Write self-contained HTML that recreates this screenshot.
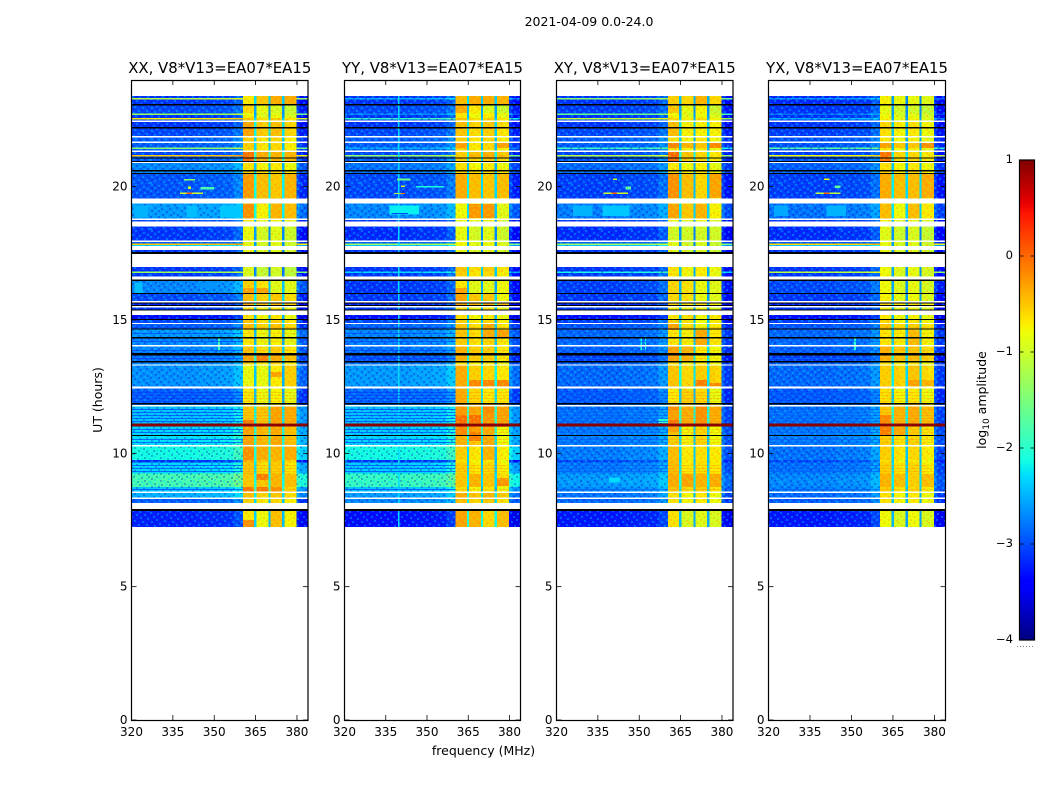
<!DOCTYPE html>
<html>
<head>
<meta charset="utf-8">
<title>2021-04-09 0.0-24.0</title>
<style>
html,body{margin:0;padding:0;background:#fff;}
svg{display:block;}
text{font-family:"DejaVu Sans","Liberation Sans",sans-serif;fill:#000;}
</style>
</head>
<body>
<svg id="fig" xmlns="http://www.w3.org/2000/svg" width="1050" height="800" viewBox="0 0 1050 800">
<defs>
<pattern id="noise" width="30" height="23" patternUnits="userSpaceOnUse">
<path fill="#00d0ff" opacity=".38" d="M1 0h2v2h-2zM8 1h2v2h-2zM15 0h2v2h-2zM23 2h2v2h-2zM4 3h2v2h-2zM12 4h2v2h-2zM19 5h2v2h-2zM27 4h2v2h-2zM0 6h2v2h-2zM7 7h2v2h-2zM16 8h2v2h-2zM24 8h2v2h-2zM3 10h2v2h-2zM11 10h2v2h-2zM20 11h2v2h-2zM27 12h2v2h-2zM6 13h2v2h-2zM14 14h2v2h-2zM22 15h2v2h-2zM1 15h2v2h-2zM9 17h2v2h-2zM18 18h2v2h-2zM26 18h2v2h-2zM4 19h2v2h-2zM13 20h2v2h-2zM21 21h2v2h-2zM0 21h2v2h-2zM28 21h2v2h-2z"/>
<path fill="#0008c0" opacity=".3" d="M4 0h2v2h-2zM11 1h2v2h-2zM19 1h2v2h-2zM26 0h2v2h-2zM1 3h2v2h-2zM8 3h2v2h-2zM16 4h2v2h-2zM23 5h2v2h-2zM5 6h2v2h-2zM12 7h2v2h-2zM20 7h2v2h-2zM27 7h2v2h-2zM0 9h2v2h-2zM8 9h2v2h-2zM14 10h2v2h-2zM23 11h2v2h-2zM3 13h2v2h-2zM10 13h2v2h-2zM18 13h2v2h-2zM26 14h2v2h-2zM6 16h2v2h-2zM13 16h2v2h-2zM21 17h2v2h-2zM28 16h2v2h-2zM1 18h2v2h-2zM10 20h2v2h-2zM17 21h2v2h-2zM24 20h2v2h-2z"/>
</pattern>
<pattern id="hotnoise" width="30" height="23" patternUnits="userSpaceOnUse">
<path fill="#b4f000" opacity=".35" d="M1 0h2v2h-2zM8 1h2v2h-2zM15 0h2v2h-2zM23 2h2v2h-2zM4 3h2v2h-2zM12 4h2v2h-2zM19 5h2v2h-2zM27 4h2v2h-2zM0 6h2v2h-2zM7 7h2v2h-2zM16 8h2v2h-2zM24 8h2v2h-2zM3 10h2v2h-2zM11 10h2v2h-2zM20 11h2v2h-2zM27 12h2v2h-2zM6 13h2v2h-2zM14 14h2v2h-2zM22 15h2v2h-2zM1 15h2v2h-2zM9 17h2v2h-2zM18 18h2v2h-2zM26 18h2v2h-2zM4 19h2v2h-2zM13 20h2v2h-2zM21 21h2v2h-2zM0 21h2v2h-2zM28 21h2v2h-2z"/>
<path fill="#ff8c00" opacity=".3" d="M4 0h2v2h-2zM11 1h2v2h-2zM19 1h2v2h-2zM26 0h2v2h-2zM1 3h2v2h-2zM8 3h2v2h-2zM16 4h2v2h-2zM23 5h2v2h-2zM5 6h2v2h-2zM12 7h2v2h-2zM20 7h2v2h-2zM27 7h2v2h-2zM0 9h2v2h-2zM8 9h2v2h-2zM14 10h2v2h-2zM23 11h2v2h-2zM3 13h2v2h-2zM10 13h2v2h-2zM18 13h2v2h-2zM26 14h2v2h-2zM6 16h2v2h-2zM13 16h2v2h-2zM21 17h2v2h-2zM28 16h2v2h-2zM1 18h2v2h-2zM10 20h2v2h-2zM17 21h2v2h-2zM24 20h2v2h-2z"/>
</pattern>
</defs>
<text x="589" y="26" font-size="12.5" text-anchor="middle">2021-04-09 0.0-24.0</text>
<text x="0" y="0" font-size="12.5" text-anchor="middle" transform="translate(102 400) rotate(-90)">UT (hours)</text>
<text x="483.5" y="755" font-size="12.5" text-anchor="middle">frequency (MHz)</text>
<g id="panels"></g>
<g id="colorbar"></g>
<text font-size="12.5" text-anchor="middle" transform="translate(986 400) rotate(-90)">log<tspan font-size="9" dy="3">10</tspan><tspan dy="-3"> amplitude</tspan></text>
</svg>
<script>
const _ = null;
const K = -9;

const xTicks = [320, 335, 350, 365, 380];
const yTicks = [0, 5, 10, 15, 20];
const cbarTicks = [1, 0, -1, -2, -3, -4];
const panelTitles = ['XX, V8*V13=EA07*EA15', 'YY, V8*V13=EA07*EA15', 'XY, V8*V13=EA07*EA15', 'YX, V8*V13=EA07*EA15'];

const rowTopUT = [
23.4,23.325,23.269,23.1,23.044,22.744,22.688,22.575,22.519,22.481,
22.425,22.238,22.181,21.9,21.844,21.694,21.638,21.469,21.413,21.356,
21.3,21.188,21.131,21.094,21.056,20.963,20.925,20.888,20.625,20.569,
20.513,20.475,19.556,19.369,18.806,18.75,18.694,18.506,17.981,17.925,
17.869,17.813,17.775,17.625,17.55,17.475,16.988,16.819,16.763,16.631,
16.526,16.463,16.013,15.975,15.713,15.664,15.619,15.563,15.525,15.469,
15.401,15.349,15.188,15.038,15.0,14.888,14.85,14.681,14.636,14.363,
14.314,14.063,14.006,13.763,13.669,13.463,13.414,13.339,13.286,12.506,
12.431,11.888,11.839,11.813,11.764,11.119,10.999,10.688,10.65,10.313,
10.264,9.75,9.656,9.244,8.738,8.561,8.513,8.344,8.288,8.138,
7.913,7.838,7.238];

const channelEdges = [320,328,336,344,352,357,360.4,362.5,364.5,365.3,367.5,369.6,370.4,372.7,374.6,375.4,377.7,379.8,381,384];
const channelZone = ['L','L','L','L','L','L','H','H','H','H','H','H','H','H','H','H','H','L','L'];
const channelOffset = [-0.12,-0.12,-0.12,-0.08,-0.05,0.12,0.05,0.05,-1.7,-0.05,-0.1,-1.8,0,0,-1.8,-0.1,-0.15,-0.15,-0.35];

const lowXX = [
-3.0,-1.0,-3.0,K,-2.9,-1.2,-3.0,-0.6,-3.0,_,
-3.0,K,-2.9,_,-2.8,_,-2.8,-1.3,-2.8,_,
-2.9,-0.4,-2.9,K,-2.8,K,_,-2.6,K,-2.6,
K,-2.85,_,-2.5,_,-2.9,_,-3.0,_,-2.8,
-0.4,-2.2,_,-3.0,K,_,-3.0,-1.2,-3.0,_,
K,-2.6,K,-2.9,_,K,-3.1,K,_,-3.0,
K,_,-3.2,K,-2.9,_,-2.8,K,-2.5,K,
-2.6,_,-2.6,K,-2.7,K,-2.6,_,-2.55,_,
-2.8,K,-2.6,_,-2.3,0.95,-2.2,K,-2.15,_,
-2.0,-3.0,-2.2,-1.7,-2.3,_,-2.4,_,-2.8,_,
K,-3.1];
const highXX = [
-0.55,-0.6,-0.55,K,-0.85,-0.9,-0.8,-0.5,-0.6,_,
-0.45,K,-0.45,_,-0.6,_,-0.6,-0.6,-0.6,_,
-0.3,-0.1,-0.2,K,-0.2,K,_,-0.7,K,-0.6,
K,-0.4,_,-0.4,_,-0.8,_,-0.9,_,-0.9,
-0.9,-0.9,_,-0.9,K,_,-1.0,-1.0,-1.0,_,
K,-0.6,K,-0.5,_,K,-0.4,K,_,-0.7,
K,_,-0.7,K,-0.55,_,-0.5,K,-0.75,K,
-0.75,_,-0.55,K,-0.35,K,-0.6,_,-0.7,_,
-0.75,K,-0.7,_,-0.45,0.95,-0.35,K,-0.35,_,
-0.35,-0.45,-0.55,-0.35,-0.15,_,-0.5,_,-0.6,_,
K,-0.65];
const lowYY = [
-3.0,-2.4,-3.0,K,-2.9,-2.6,-3.0,-1.8,-3.0,_,
-3.0,K,-2.9,_,-2.8,_,-2.8,-2.4,-2.8,_,
-2.9,-1.2,-2.9,K,-2.8,K,_,-2.7,K,-2.7,
K,-2.9,_,-2.6,_,-3.0,_,-3.05,_,-2.8,
-1.2,-2.3,_,-3.0,K,_,-3.0,-2.2,-3.0,_,
K,-3.0,K,-3.0,_,K,-3.1,K,_,-3.0,
K,_,-3.2,K,-2.9,_,-2.75,K,-2.6,K,
-2.65,_,-2.7,K,-2.85,K,-2.7,_,-2.5,_,
-2.75,K,-2.6,_,-2.3,0.95,-2.25,K,-2.2,_,
-2.0,-3.0,-2.25,-1.8,-2.3,_,-2.5,_,-2.6,_,
K,-3.2];
const highYY = [
-0.55,-0.6,-0.55,K,-0.75,-0.7,-0.75,-0.5,-0.6,_,
-0.5,K,-0.55,_,-0.6,_,-0.65,-0.6,-0.65,_,
-0.4,-0.3,-0.4,K,-0.5,K,_,-0.7,K,-0.6,
K,-0.5,_,-0.6,_,-0.85,_,-0.9,_,-0.85,
-0.8,-0.85,_,-0.9,K,_,-0.55,-0.6,-0.6,_,
K,-0.75,K,-0.5,_,K,-0.3,K,_,-0.7,
K,_,-0.7,K,-0.6,_,-0.55,K,-0.55,K,
-0.6,_,-0.45,K,-0.45,K,-0.7,_,-0.35,_,
-0.45,K,-0.35,_,-0.25,0.95,-0.2,K,-0.45,_,
-0.6,-0.7,-0.6,-0.5,-0.7,_,-0.4,_,-0.5,_,
K,-0.35];
const lowXY = [
-3.0,-1.3,-3.0,K,-2.95,-1.5,-3.0,-1.0,-3.0,_,
-3.0,K,-2.9,_,-2.8,_,-2.8,-1.8,-2.8,_,
-2.9,-1.0,-2.9,K,-2.85,K,_,-2.75,K,-2.7,
K,-2.95,_,-2.65,_,-3.0,_,-3.05,_,-2.8,
-1.2,-2.3,_,-3.0,K,_,-3.0,-2.0,-3.0,_,
K,-2.95,K,-3.0,_,K,-3.1,K,_,-3.0,
K,_,-3.2,K,-2.95,_,-2.85,K,-2.75,K,
-2.75,_,-2.8,K,-2.95,K,-2.8,_,-2.75,_,
-2.85,K,-2.7,_,-2.7,0.95,-2.65,K,-2.65,_,
-2.65,-2.9,-2.65,-2.5,-2.6,_,-2.7,_,-2.75,_,
K,-3.15];
const highXY = [
-0.7,-0.75,-0.7,K,-0.85,-0.85,-0.8,-0.6,-0.7,_,
-0.55,K,-0.6,_,-0.7,_,-0.7,-0.7,-0.7,_,
-0.4,-0.3,-0.4,K,-0.5,K,_,-0.75,K,-0.7,
K,-0.65,_,-0.55,_,-0.85,_,-0.95,_,-0.95,
-0.95,-0.95,_,-0.95,K,_,-0.7,-0.75,-0.7,_,
K,-0.8,K,-0.8,_,K,-0.6,K,_,-0.8,
K,_,-0.75,K,-0.6,_,-0.5,K,-0.6,K,
-0.65,_,-0.5,K,-0.4,K,-0.7,_,-0.45,_,
-0.7,K,-0.5,_,-0.35,0.95,-0.55,K,-0.6,_,
-0.6,-0.65,-0.55,-0.4,-0.55,_,-0.7,_,-0.7,_,
K,-0.75];
const lowYX = [
-3.05,-2.5,-3.05,K,-3.0,-2.7,-3.0,-2.4,-3.0,_,
-3.0,K,-2.95,_,-2.85,_,-2.85,-1.6,-2.85,_,
-2.95,-0.7,-2.95,K,-2.85,K,_,-2.8,K,-2.75,
K,-2.95,_,-2.7,_,-3.0,_,-3.05,_,-2.85,
-0.5,-2.3,_,-3.0,K,_,-3.0,-1.0,-3.0,_,
K,-2.9,K,-3.0,_,K,-3.1,K,_,-3.0,
K,_,-3.2,K,-2.95,_,-2.85,K,-2.75,K,
-2.75,_,-2.8,K,-2.95,K,-2.8,_,-2.75,_,
-2.85,K,-2.75,_,-2.7,0.95,-2.65,K,-2.65,_,
-2.7,-2.9,-2.7,-2.6,-2.65,_,-2.75,_,-2.8,_,
K,-3.15];
const highYX = [
-0.9,-0.9,-0.9,K,-0.9,-0.9,-0.85,-0.75,-0.85,_,
-0.65,K,-0.7,_,-0.75,_,-0.75,-0.75,-0.75,_,
-0.5,-0.25,-0.5,K,-0.55,K,_,-0.7,K,-0.65,
K,-0.5,_,-0.55,_,-0.85,_,-0.95,_,-0.9,
-0.9,-0.9,_,-0.9,K,_,-0.85,-0.85,-0.85,_,
K,-0.85,K,-0.8,_,K,-0.6,K,_,-0.8,
K,_,-0.75,K,-0.65,_,-0.55,K,-0.65,K,
-0.65,_,-0.5,K,-0.45,K,-0.7,_,-0.5,_,
-0.7,K,-0.5,_,-0.4,0.95,-0.55,K,-0.6,_,
-0.6,-0.7,-0.6,-0.5,-0.6,_,-0.7,_,-0.7,_,
K,-0.8];

const highBands = [[360.4, 364.5], [365.3, 369.6], [370.4, 374.6], [375.4, 379.8]];

/* sub-band patches: band, UT top, UT bottom, log10 amplitude */
const bandPatchesXX = [
[0,23.4,23.1,-0.7],[1,23.4,23.1,-0.5],[2,23.4,23.1,-0.35],[3,23.4,23.1,-0.35],
[0,23.06,22.76,-0.6],[1,23.06,22.76,-0.85],[2,23.06,22.76,-0.95],[3,23.06,22.76,-1.05],
[0,22.43,21.9,-0.3],
[0,21.3,20.96,-0.05],[1,21.3,20.96,-0.35],[2,21.3,20.96,-0.4],[3,21.3,20.96,-0.4],
[0,20.48,19.58,-0.25],[1,20.48,19.58,-0.45],[2,20.48,19.58,-0.5],[3,20.48,19.58,-0.4],
[0,19.35,18.83,-0.2],[1,19.35,18.83,-0.75],[2,19.35,18.83,-0.4],[3,19.35,18.83,-0.45],
[0,16.2,15.98,-0.3],[1,16.2,15.98,-0.3],[2,16.46,15.98,-0.9],[3,16.46,15.98,-0.9],
[0,13.69,13.46,-0.3],[1,13.69,13.46,-0.1],
[0,13.31,12.52,-0.85],[1,13.31,12.52,-0.85],[2,13.05,12.86,-0.3],[3,13.31,12.52,-0.55],
[0,11.78,11.25,-0.5],[0,11.25,11.14,-0.05],[1,11.78,11.14,-0.5],[2,11.78,11.14,-0.3],[3,11.78,11.14,-0.35],
[0,10.28,9.75,-0.2],[1,10.28,9.75,-0.35],[2,10.28,9.75,-0.4],[3,10.28,9.75,-0.35],
[0,9.23,8.74,-0.5],[1,9.23,9.0,-0.1],[1,9.0,8.74,-0.5],[2,9.23,8.74,-0.4],[3,9.23,8.74,-0.45],
[0,8.74,8.59,-0.05],[1,8.74,8.59,-0.05],[2,8.74,8.59,-0.2],[3,8.74,8.59,-0.6],
[0,7.84,7.5,-0.7],[0,7.5,7.24,-0.2],[1,7.84,7.24,-0.8],[2,7.84,7.24,-0.45],[3,7.84,7.24,-0.75]];
const bandPatchesYY = [
[0,23.4,23.1,-0.45],[1,23.4,23.1,-0.35],[2,23.4,23.1,-0.35],[3,23.4,23.1,-0.4],
[0,23.06,22.76,-0.35],[1,23.06,22.76,-0.7],[2,23.06,22.76,-0.95],[3,23.06,22.76,-1.05],
[0,21.64,21.45,-0.3],[1,21.64,21.45,-0.7],[2,21.64,21.45,-0.6],[3,21.64,21.45,-0.3],
[0,21.3,20.96,-0.55],
[0,20.48,19.58,-0.35],[1,20.48,19.58,-0.45],[2,20.48,19.58,-0.5],[3,20.48,19.58,-0.45],
[0,19.35,18.83,-0.8],[1,19.35,18.83,-0.25],[2,19.35,18.83,-0.25],[3,19.35,18.83,-0.9],
[0,16.46,16.2,-0.7],[0,16.2,15.98,-0.3],[1,16.46,15.98,-0.9],[2,16.46,15.98,-0.9],[3,16.46,15.98,-0.8],
[0,15.98,15.71,-0.3],[1,15.98,15.71,-0.5],[2,15.98,15.71,-0.5],[3,15.98,15.71,-0.8],
[2,14.89,14.36,-0.35],[3,14.63,14.36,-0.3],
[0,14.06,13.46,-0.4],[1,14.06,13.46,-0.55],[2,14.06,13.46,-0.55],[3,14.06,13.46,-0.7],
[0,13.31,12.52,-0.35],[1,13.31,12.75,-0.55],[2,13.31,12.75,-0.6],[3,13.31,12.75,-0.7],
[1,12.75,12.52,-0.15],[2,12.75,12.52,-0.15],[3,12.75,12.52,-0.15],
[0,12.41,11.89,-0.35],[1,12.41,11.89,-0.6],[2,12.41,11.89,-0.7],[3,12.41,11.89,-0.7],
[0,11.78,11.44,-0.25],[0,11.44,11.14,0.0],[1,11.44,11.14,0.0],[2,11.78,11.51,-0.15],[3,11.78,11.14,-0.3],
[0,10.99,10.69,-0.15],[1,10.8,10.46,-0.1],[2,10.99,10.31,-0.35],[3,10.99,10.31,-0.8],
[2,10.28,9.75,-0.4],
[0,9.23,8.74,-0.5],[1,9.23,8.74,-0.4],[2,9.23,8.74,-0.5],[3,9.08,8.78,-0.25],
[0,7.84,7.24,-0.3],[1,7.84,7.24,-0.4],[2,7.84,7.24,-0.6],[3,7.84,7.24,-0.45]];
const bandPatchesXY = [
[0,23.4,23.1,-0.55],[1,23.4,23.1,-0.6],[2,23.4,23.1,-0.4],[3,23.4,23.1,-0.6],
[0,23.06,22.76,-0.5],[1,23.06,22.76,-0.85],[2,23.06,22.76,-0.75],[3,23.06,22.76,-1.05],
[0,22.43,21.9,-0.45],[1,22.43,21.9,-0.75],[2,22.43,21.9,-0.75],[3,22.43,21.9,-0.75],
[0,21.64,21.45,-0.15],[1,21.64,21.45,-0.4],[2,21.64,21.45,-0.5],[3,21.64,21.45,-0.15],
[0,21.3,20.96,0.0],[1,21.3,20.96,-0.5],[2,21.3,20.96,-0.6],[3,21.3,20.96,-0.7],
[0,20.48,19.58,-0.2],[1,20.48,19.58,-0.45],[2,20.48,19.58,-0.6],[3,20.48,19.58,-0.3],
[0,19.35,18.83,-0.3],[1,19.35,18.83,-0.5],[2,19.35,18.83,-0.4],[3,19.35,18.83,-0.75],
[0,18.49,18.0,-1.0],[1,18.49,18.0,-1.0],[2,18.49,18.0,-1.0],[3,18.49,18.0,-1.0],
[0,16.46,15.71,-0.6],[1,16.46,15.71,-0.65],[2,16.46,15.71,-0.85],[3,16.46,15.71,-0.9],
[0,14.89,14.63,-0.3],[1,15.19,14.63,-0.65],[2,15.19,14.63,-0.8],[3,15.19,14.63,-0.7],
[0,14.63,14.06,-0.7],[1,14.63,14.06,-0.75],[2,14.63,14.06,-0.35],[3,14.63,14.06,-0.7],
[0,14.06,13.46,-0.3],[1,14.06,13.46,-0.4],[2,14.06,13.46,-0.7],[3,14.06,13.46,-0.8],
[0,13.31,12.52,-0.5],[1,13.31,12.52,-0.6],[2,13.31,12.75,-0.55],[2,12.75,12.52,-0.1],[3,12.63,12.52,-0.15],
[0,12.41,11.89,-0.7],[1,12.41,11.89,-0.55],[2,12.41,11.89,-0.6],[3,12.41,11.89,-0.85],
[0,11.78,11.6,-0.2],[0,11.25,11.14,-0.05],[1,11.78,11.14,-0.35],[2,11.78,11.14,-0.2],[3,11.78,11.14,-0.35],
[0,10.99,10.8,-0.3],[1,10.99,10.31,-0.75],[2,10.99,10.31,-0.6],[3,10.99,10.31,-0.8],
[0,10.28,9.26,-0.45],[1,10.28,9.26,-0.7],[2,10.28,9.26,-0.65],[3,10.28,9.26,-0.7],
[0,9.23,8.74,-0.35],[1,9.23,8.74,-0.3],[2,9.23,8.74,-0.4],[3,9.23,8.74,-0.35],
[0,7.84,7.24,-0.65],[1,7.84,7.24,-0.95],[2,7.84,7.24,-0.9],[3,7.84,7.24,-0.95]];
const bandPatchesYX = [
[0,23.4,23.1,-0.75],[1,23.4,23.1,-0.85],[2,23.4,23.1,-0.85],[3,23.4,23.1,-0.9],
[0,23.06,22.76,-0.85],[1,23.06,22.76,-1.0],[2,23.06,22.76,-1.0],[3,23.06,22.76,-1.1],
[0,21.64,21.45,-0.3],[1,21.64,21.45,-0.5],[2,21.64,21.45,-0.5],[3,21.64,21.45,-0.2],
[0,21.3,20.96,-0.05],[1,21.3,20.96,-0.6],[2,21.3,20.96,-0.6],[3,21.3,20.96,-0.7],
[0,20.48,19.58,-0.35],[1,20.48,19.58,-0.45],[2,20.48,19.58,-0.45],[3,20.48,19.58,-0.35],
[0,19.35,18.83,-0.45],[1,19.35,18.83,-0.8],[2,19.35,18.83,-0.45],[3,19.35,18.83,-0.7],
[0,14.63,14.06,-0.7],[2,14.63,14.06,-0.45],
[0,14.06,13.46,-0.4],[1,14.06,13.46,-0.5],
[0,13.31,12.52,-0.55],[2,12.75,12.52,-0.3],[3,12.75,12.52,-0.4],
[0,11.78,11.44,-0.5],[0,11.44,11.14,-0.15],[1,11.78,11.14,-0.4],[2,11.78,11.14,-0.35],[3,11.78,11.14,-0.45],
[0,10.99,10.69,-0.1],[1,10.99,10.69,-0.35],
[0,9.23,8.74,-0.4],[1,9.23,8.74,-0.45],[2,9.23,8.74,-0.55],[3,9.23,8.74,-0.45],
[0,7.84,7.24,-0.8],[1,7.84,7.24,-0.95],[2,7.84,7.24,-0.8],[3,7.84,7.24,-0.95]];

/* low-band features: MHz from, MHz to, UT top, UT bottom, log10 amplitude */
const featuresXX = [
[337.5,346,19.78,19.72,-1.0],[340,342,19.78,19.72,0.0],[339,343,20.28,20.24,-1.4],
[340.5,341.5,20.0,19.92,-1.0],[345,350,19.98,19.9,-1.8],
[340,344,19.3,18.85,-2.45],[321,326,19.3,18.85,-2.5],[345,351,16.4,16.2,-2.65],[321,324,16.4,15.98,-2.45],
[351.3,352,14.35,13.85,-1.9],[352,360,19.3,18.85,-2.4]];
const featuresYY = [
[339.5,340,23.4,7.24,-2.3],[336.4,347,19.3,18.95,-2.2],[337,343,19.02,18.98,-3.0],
[338,342,19.76,19.72,-1.2],[340.5,342,19.76,19.72,-0.1],[340.5,342,20.04,19.98,-1.0],
[339,344,20.3,20.24,-1.6],[346,356,20.02,19.96,-2.1]];
const featuresXY = [
[336.6,346.4,19.3,18.9,-2.4],[326,333,19.3,18.9,-2.5],[337,346,19.78,19.72,-1.0],
[340,342,19.78,19.72,0.0],[345,347,20.0,19.9,-1.7],[339,343,9.1,8.9,-2.3],
[350.5,351,14.35,13.85,-2.1],[352,352.5,14.35,13.85,-2.1],[357,360.4,11.3,11.14,-2.0],[340.5,342,20.3,20.25,-1.0]];
const featuresYX = [
[341,348,19.3,18.9,-2.5],[322,327,19.3,18.9,-2.55],[337,346,19.78,19.72,-1.1],
[340,342,19.78,19.72,0.0],[340,342,20.3,20.25,-0.8],[351,351.7,14.35,13.85,-2.0],
[344,346,20.05,19.95,-1.7]];

const stripeUT = [14.74,14.51,14.21,13.88,13.58,12.3,12.19,12.08,11.96,11.66,11.55,11.44,11.33,11.21,10.91,10.8,10.54,10.43,9.56,9.45,9.34,8.66];
const stripeLevels = [-3.05, -3.05, -2.9, -2.9];

const lowByPanel = [lowXX, lowYY, lowXY, lowYX];
const highByPanel = [highXX, highYY, highXY, highYX];
const patchesByPanel = [bandPatchesXX, bandPatchesYY, bandPatchesXY, bandPatchesYX];
const featuresByPanel = [featuresXX, featuresYY, featuresXY, featuresYX];

const NS = 'http://www.w3.org/2000/svg';
const panelFrames = [[131.5, 308], [344.5, 520.5], [556.5, 733], [768.5, 945.5]];
const axisTop = 80, axisBottom = 720;

function yOf(ut) { return axisBottom - (ut / 24) * (axisBottom - axisTop); }
function xOf(frame, mhz) { return frame[0] + (mhz - 320) * (frame[1] - frame[0]) / 64; }
function snap(v) { return Math.round(v * 2) / 2; }

function ramp(t, pts) {
  for (let i = 1; i < pts.length; i++) {
    if (t <= pts[i][0]) {
      const a = pts[i - 1], b = pts[i];
      return a[1] + (b[1] - a[1]) * (t - a[0]) / (b[0] - a[0]);
    }
  }
  return pts[pts.length - 1][1];
}
function jet(v) {
  if (v === K) return '#000';
  const t = Math.max(0, Math.min(1, (v + 4) / 5));
  const r = ramp(t, [[0, 0], [0.35, 0], [0.66, 1], [0.89, 1], [1, 0.5]]);
  const g = ramp(t, [[0, 0], [0.125, 0], [0.375, 1], [0.64, 1], [0.91, 0], [1, 0]]);
  const b = ramp(t, [[0, 0.5], [0.11, 1], [0.34, 1], [0.65, 0], [1, 0]]);
  return 'rgb(' + Math.round(r * 255) + ',' + Math.round(g * 255) + ',' + Math.round(b * 255) + ')';
}
function make(tag, parent) {
  const el = document.createElementNS(NS, tag);
  parent.appendChild(el);
  return el;
}
function setRect(el, x, y, w, h, fill) {
  el.setAttribute('x', x);
  el.setAttribute('y', y);
  el.setAttribute('width', w);
  el.setAttribute('height', h);
  el.setAttribute('fill', fill);
  el.setAttribute('shape-rendering', 'crispEdges');
}
function setLine(el, x1, y1, x2, y2, w, color) {
  el.setAttribute('x1', x1);
  el.setAttribute('y1', y1);
  el.setAttribute('x2', x2);
  el.setAttribute('y2', y2);
  el.setAttribute('stroke', color);
  el.setAttribute('stroke-width', w);
}
function rowClip(topA, botA, topB, botB) {
  const top = Math.min(topA, topB), bot = Math.max(botA, botB);
  return top > bot ? [top, bot] : null;
}

const panelsRoot = document.getElementById('panels');

panelFrames.forEach(function (frame, p) {
  const g = make('g', panelsRoot);
  
  
  const low = lowByPanel[p], high = highByPanel[p];

  for (let r = 0; r < rowTopUT.length - 1; r++) {
    if (low[r] === null) continue;
    const rowTop = rowTopUT[r], rowBot = rowTopUT[r + 1];
    const y0 = snap(yOf(rowTop));
    const y1 = snap(yOf(rowBot));
    for (let c = 0; c < channelEdges.length - 1; c++) {
      const base = channelZone[c] === 'L' ? low[r] : high[r];
      const special = base === K || base > 0.5;
      const value = special ? base : base + channelOffset[c];
      const x0 = xOf(frame, channelEdges[c]);
      const x1 = xOf(frame, channelEdges[c + 1]);
      const cell = make('rect', g);
      
      
      setRect(cell, x0.toFixed(2), y0, (x1 - x0).toFixed(2), y1 - y0, jet(value));
    }
    if (low[r] === K || low[r] > 0.5) continue;

    patchesByPanel[p].forEach(function (patch) {
      const clip = rowClip(patch[1], patch[2], rowTop, rowBot);
      if (!clip) return;
      const band = highBands[patch[0]];
      const px0 = xOf(frame, band[0]);
      const px1 = xOf(frame, band[1]);
      const py0 = snap(yOf(clip[0]));
      const py1 = snap(yOf(clip[1]));
      if (py1 <= py0) return;
      const cell = make('rect', g);
      
      
      setRect(cell, px0.toFixed(2), py0, (px1 - px0).toFixed(2), py1 - py0, jet(patch[3]));
    });

    highBands.forEach(function (band) {
      const mx0 = xOf(frame, band[0]);
      const mx1 = xOf(frame, band[1]);
      const mottle = make('rect', g);
      
      
      setRect(mottle, mx0.toFixed(2), y0, (mx1 - mx0).toFixed(2), y1 - y0, 'url(#hotnoise)');
    });

    if (low[r] < -1.5) {
      const nx0 = xOf(frame, channelEdges[0]);
      const nx1 = xOf(frame, channelEdges[6]);
      const grain = make('rect', g);
      
      
      setRect(grain, nx0.toFixed(2), y0, (nx1 - nx0).toFixed(2), y1 - y0, 'url(#noise)');
      const rx0 = xOf(frame, channelEdges[17]);
      const rx1 = xOf(frame, channelEdges[19]);
      const grainRight = make('rect', g);
      
      
      setRect(grainRight, rx0.toFixed(2), y0, (rx1 - rx0).toFixed(2), y1 - y0, 'url(#noise)');
    }

    featuresByPanel[p].forEach(function (f) {
      const clip = rowClip(f[2], f[3], rowTop, rowBot);
      if (!clip) return;
      const fx0 = xOf(frame, f[0]);
      const fx1 = xOf(frame, f[1]);
      const fy0 = snap(yOf(clip[0]));
      const fy1 = snap(yOf(clip[1]));
      if (fy1 <= fy0) return;
      const mark = make('rect', g);
      
      
      setRect(mark, fx0.toFixed(2), fy0, (fx1 - fx0).toFixed(2), fy1 - fy0, jet(f[4]));
    });
  }

  stripeUT.forEach(function (ut) {
    const sy = snap(yOf(ut));
    const sx0 = xOf(frame, 320);
    const sx1 = xOf(frame, 360.4);
    const stripe = make('rect', g);
    
    
    setRect(stripe, sx0.toFixed(2), sy, (sx1 - sx0).toFixed(2), 1, jet(stripeLevels[p]));
    stripe.setAttribute('opacity', '0.7');
    const hx0 = xOf(frame, 360.4);
    const hx1 = xOf(frame, 379.8);
    const hot = make('rect', g);
    
    
    setRect(hot, hx0.toFixed(2), sy, (hx1 - hx0).toFixed(2), 1, jet(-0.2));
    hot.setAttribute('opacity', '0.3');
  });

  xTicks.forEach(function (t) {
    const x = xOf(frame, t);
    const bottomTick = make('line', g);
    
    
    setLine(bottomTick, x, axisBottom, x, axisBottom - 5, 0.8, '#000');
    const topTick = make('line', g);
    
    
    setLine(topTick, x, axisTop, x, axisTop + 5, 0.8, '#000');
    const label = make('text', g);
    
    
    label.setAttribute('x', x);
    label.setAttribute('y', 736);
    label.setAttribute('font-size', '12');
    label.setAttribute('text-anchor', 'middle');
    label.textContent = t;
  });

  yTicks.forEach(function (t) {
    const y = yOf(t);
    const leftTick = make('line', g);
    
    
    setLine(leftTick, frame[0], y, frame[0] + 5, y, 0.8, '#000');
    const rightTick = make('line', g);
    
    
    setLine(rightTick, frame[1], y, frame[1] - 5, y, 0.8, '#000');
    const label = make('text', g);
    
    
    label.setAttribute('x', frame[0] - 4);
    label.setAttribute('y', y + 4);
    label.setAttribute('font-size', '12');
    label.setAttribute('text-anchor', 'end');
    label.textContent = t;
  });

  const border = make('rect', g);
  
  
  border.setAttribute('x', frame[0]);
  border.setAttribute('y', axisTop + 0.5);
  border.setAttribute('width', frame[1] - frame[0]);
  border.setAttribute('height', axisBottom - axisTop);
  border.setAttribute('fill', 'none');
  border.setAttribute('stroke', '#000');
  border.setAttribute('stroke-width', '1.2');

  const title = make('text', g);
  
  
  title.setAttribute('x', (frame[0] + frame[1]) / 2);
  title.setAttribute('y', 73);
  title.setAttribute('font-size', '14.9');
  title.setAttribute('text-anchor', 'middle');
  title.textContent = panelTitles[p];
});

const cbRoot = document.getElementById('colorbar');
const cbLeft = 1019.5, cbRight = 1034.5, cbTop = 160, cbBottom = 640;
function cbY(v) { return cbBottom - (v + 4) / 5 * (cbBottom - cbTop); }

for (let y = cbTop; y < cbBottom; y += 2) {
  const strip = make('rect', cbRoot);
  
  
  const v = -4 + 5 * (cbBottom - (y + 1)) / (cbBottom - cbTop);
  setRect(strip, cbLeft, y, cbRight - cbLeft, 2, jet(v));
}
cbarTicks.forEach(function (t) {
  const y = cbY(t);
  const a = make('line', cbRoot);
  
  
  setLine(a, cbLeft, y, cbLeft + 4, y, 0.8, '#000');
  const b = make('line', cbRoot);
  
  
  setLine(b, cbRight, y, cbRight - 4, y, 0.8, '#000');
  const label = make('text', cbRoot);
  
  
  label.setAttribute('x', 1013);
  label.setAttribute('y', y + 3);
  label.setAttribute('font-size', '11.6');
  label.setAttribute('text-anchor', 'end');
  label.textContent = t < 0 ? '\u2212' + Math.abs(t) : t;
});
const cbFrame = make('rect', cbRoot);


cbFrame.setAttribute('x', cbLeft);
cbFrame.setAttribute('y', cbTop);
cbFrame.setAttribute('width', cbRight - cbLeft);
cbFrame.setAttribute('height', cbBottom - cbTop);
cbFrame.setAttribute('fill', 'none');
cbFrame.setAttribute('stroke', '#000');
cbFrame.setAttribute('stroke-width', '1.2');
const cbDots = make('line', cbRoot);


setLine(cbDots, 1017, 646.5, 1035, 646.5, 1, '#888');
cbDots.setAttribute('stroke-dasharray', '1 2');
</script>
</body>
</html>
